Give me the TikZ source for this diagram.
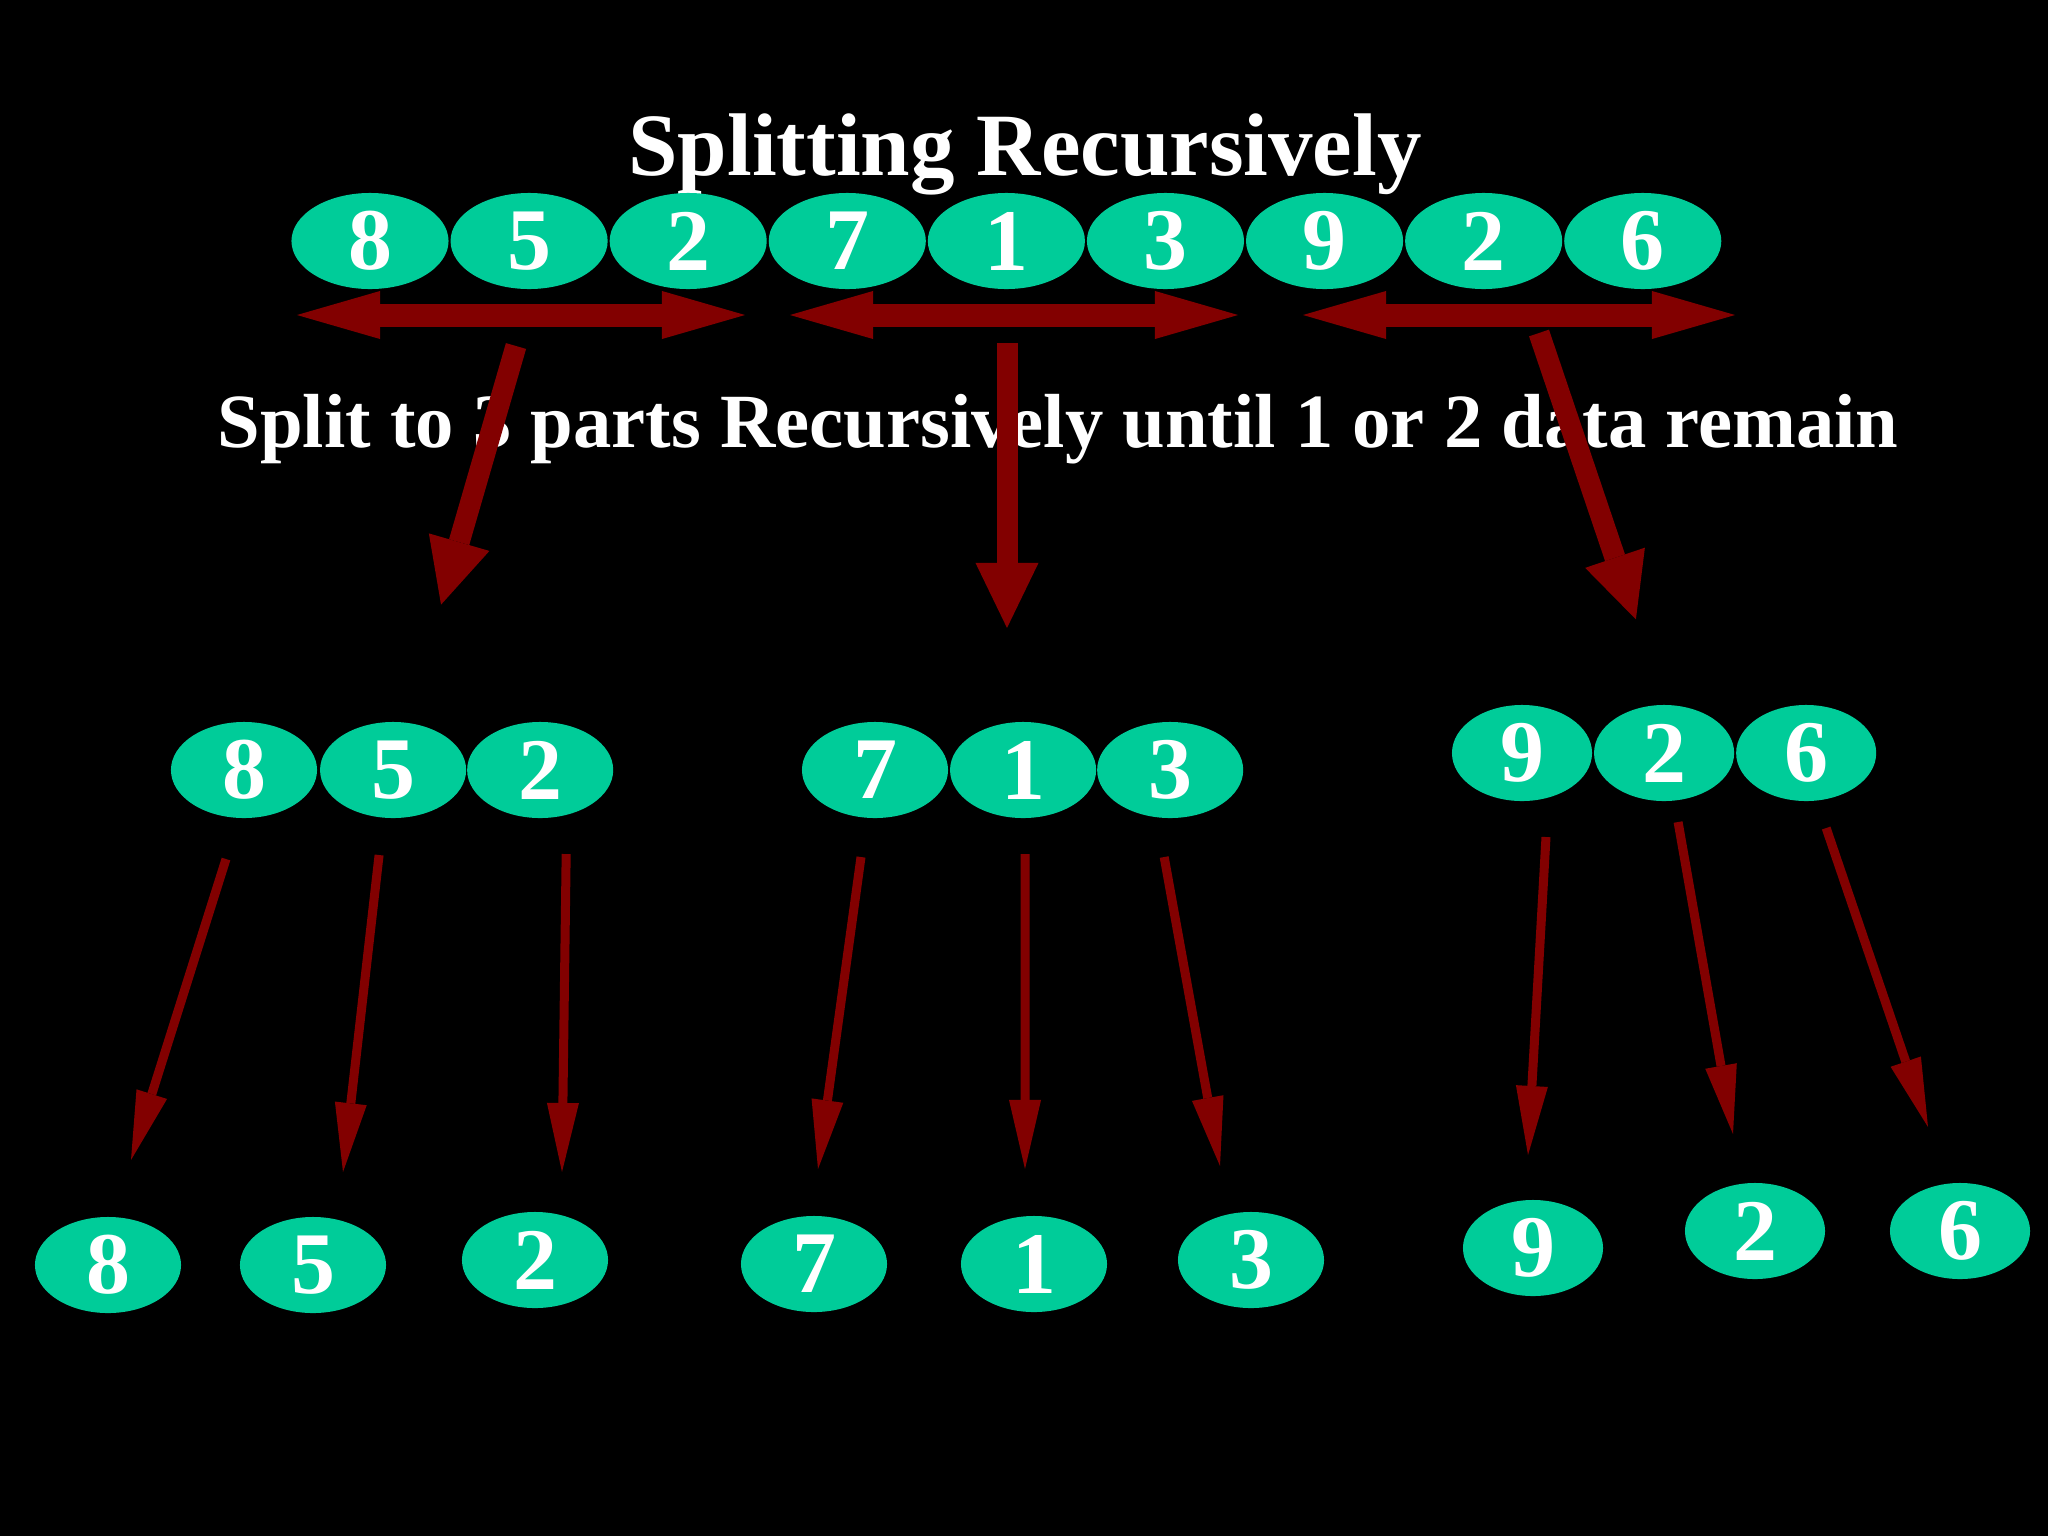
\documentclass[tikz,border=0pt]{standalone}
\usepackage{fontspec}
\setmainfont{Liberation Serif}
\usepackage{tikz}
\usetikzlibrary{shapes.geometric,arrows.meta,positioning}
\definecolor{numteal}{RGB}{0, 204, 153}
\definecolor{splitred}{RGB}{130, 0, 0}

\begin{document}
\begin{tikzpicture}[x=0.01cm, y=-0.01cm,
        numtop/.style={ellipse, fill=numteal, inner sep=0pt, outer sep=0pt, minimum width=1.57cm, minimum height=0.96cm, text=white, font=\fontsize{25}{30}\selectfont\bfseries},
        nummid/.style={numtop, minimum width=1.46cm},
        numright/.style={numtop, minimum width=1.40cm},
        splitarrow/.style={color=splitred, line width=0.23cm, {Triangle[width=0.48cm,length=0.83cm,line width=0pt]}-{Triangle[width=0.48cm,length=0.83cm,line width=0pt]}},
        bigarrow/.style={color=splitred, line width=0.21cm, -{Triangle[width=0.63cm,length=0.65cm,line width=0pt]}},
        smallarrow/.style={color=splitred, line width=0.09cm, -{Triangle[width=0.32cm,length=0.69cm,line width=0pt]}}
    ]
        \fill[black] (0,0) rectangle (2048,1536);
        \node[text=white, font=\fontsize{25.3}{30}\selectfont\bfseries, anchor=base] (title) at (1025,175) {Splitting Recursively};
        \node[text=white, font=\fontsize{21.8}{26}\selectfont\bfseries, anchor=base] (subtitle) at (1058,447) {Split to 3 parts Recursively until 1 or 2 data remain};
        % whole list
        \node[numtop] (t1) at (370,241) {8};
        \node[numtop, right=0.02cm of t1] (t2) {5};
        \node[numtop, right=0.02cm of t2] (t3) {2};
        \node[numtop, right=0.02cm of t3] (t4) {7};
        \node[numtop, right=0.02cm of t4] (t5) {1};
        \node[numtop, right=0.02cm of t5] (t6) {3};
        \node[numtop, right=0.02cm of t6] (t7) {9};
        \node[numtop, right=0.02cm of t7] (t8) {2};
        \node[numtop, right=0.02cm of t8] (t9) {6};
        % three parts
        \node[nummid] (m1) at (244,770) {8};
        \node[nummid, right=0.03cm of m1] (m2) {5};
        \node[nummid, right=0.01cm of m2] (m3) {2};
        \node[nummid] (m4) at (875,770) {7};
        \node[nummid, right=0.02cm of m4] (m5) {1};
        \node[nummid, right=0.01cm of m5] (m6) {3};
        \node[numright] (m7) at (1522,753) {9};
        \node[numright, right=0.02cm of m7] (m8) {2};
        \node[numright, right=0.02cm of m8] (m9) {6};
        % single data
        \node[nummid] (b1) at (108,1265) {8};
        \node[nummid] (b2) at (313,1265) {5};
        \node[nummid] (b3) at (535,1260) {2};
        \node[nummid] (b4) at (814,1264) {7};
        \node[nummid] (b5) at (1034,1264) {1};
        \node[nummid] (b6) at (1251,1260) {3};
        \node[numright] (b7) at (1533,1248) {9};
        \node[numright] (b8) at (1755,1231) {2};
        \node[numright] (b9) at (1960,1231) {6};
        % split marks
        \coordinate (sl1) at (297,315);
        \coordinate (sr1) at (745,315);
        \coordinate (sl2) at (790,315);
        \coordinate (sr2) at (1238,315);
        \coordinate (sl3) at (1303,315);
        \coordinate (sr3) at (1735,315);
        \coordinate (d1) at (516,346);
        \coordinate (d2) at (1007,343);
        \coordinate (d3) at (1539,333);
        \draw[splitarrow] (sl1) -- (sr1);
        \draw[splitarrow] (sl2) -- (sr2);
        \draw[splitarrow] (sl3) -- (sr3);
        \draw[bigarrow, shorten >=1.23cm] (d1) -- (m2);
        \draw[bigarrow, shorten >=0.94cm] (d2) -- (d2 |- m5.north);
        \draw[bigarrow, shorten >=1.41cm] (d3) -- ([xshift=0.17cm]m8.center);
        \draw[smallarrow] ([shift={(-18,41)}]m1.south) -- ([shift={(23,-57)}]b1.north);
        \draw[smallarrow] ([shift={(-14,37)}]m2.south) -- ([shift={(30,-45)}]b2.north);
        \draw[smallarrow] ([shift={(26,36)}]m3.south) -- ([shift={(27,-40)}]b3.north);
        \draw[smallarrow] ([shift={(-14,39)}]m4.south) -- ([shift={(4,-47)}]b4.north);
        \draw[smallarrow] ([shift={(2,36)}]m5.south) -- ([shift={(-9,-47)}]b5.north);
        \draw[smallarrow] ([shift={(-6,39)}]m6.south) -- ([shift={(-31,-46)}]b6.north);
        \draw[smallarrow] ([shift={(24,36)}]m7.south) -- ([shift={(-5,-45)}]b7.north);
        \draw[smallarrow] ([shift={(14,21)}]m8.south) -- ([shift={(-22,-49)}]b8.north);
        \draw[smallarrow] ([shift={(20,27)}]m9.south) -- ([shift={(-32,-56)}]b9.north);
    \end{tikzpicture}
\end{document}
